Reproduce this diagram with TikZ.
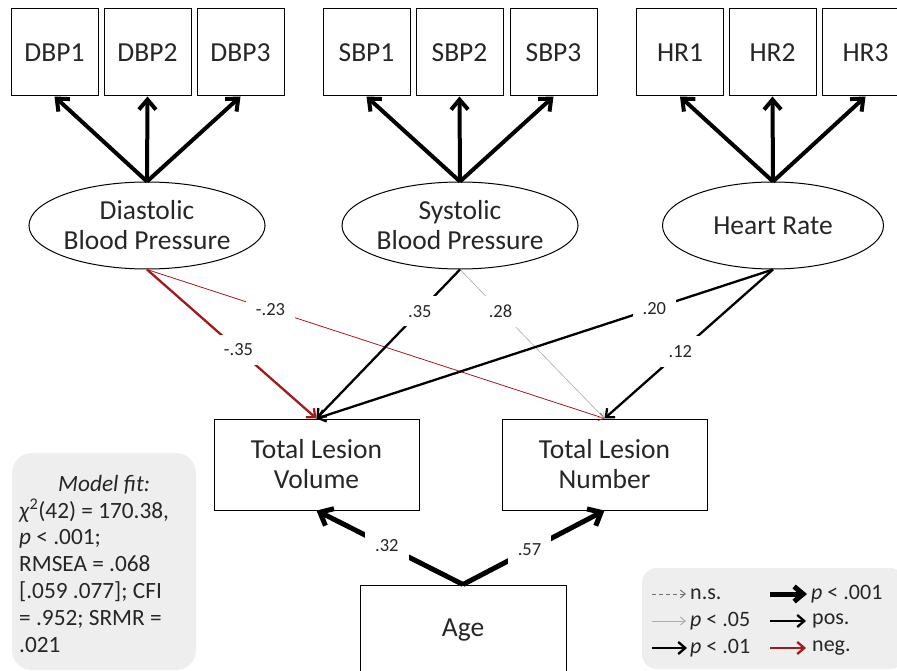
\documentclass[tikz,border=0pt]{standalone}
\usepackage{fontspec}
\setmainfont{Carlito}
\usetikzlibrary{shapes.geometric,arrows.meta}
\definecolor{txt}{HTML}{262626}
\definecolor{negred}{HTML}{A31A1A}
\definecolor{boxgray}{HTML}{EEEEEE}
\definecolor{nsgray}{HTML}{707070}
\definecolor{lightgray}{HTML}{ABABAB}
\begin{document}
\begin{tikzpicture}[x=1pt,y=-1pt,
  obs/.style={draw, line width=1pt, minimum width=87pt, minimum height=87pt, inner sep=0pt,
    font=\fontsize{27.5}{30}\selectfont, text=txt},
  lat/.style={ellipse, draw, line width=1pt, minimum width=221pt, minimum height=87pt, inner sep=0pt,
    align=center, font=\fontsize{27.5}{30}\selectfont, text=txt},
  outc/.style={draw, line width=1pt, minimum width=205pt, minimum height=91pt, inner sep=0pt,
    align=center, font=\fontsize{27.5}{30}\selectfont, text=txt},
  panel/.style={fill=boxgray, draw=none, rounded corners=20pt, inner sep=0pt},
  loadarrow/.style={line width=4pt, -{Straight Barb[length=10pt,width=17pt]}},
  agearrow/.style={line width=5pt, -{Straight Barb[length=11pt,width=19pt]}},
  medarrow/.style={line width=2.3pt, -{Straight Barb[length=7pt,width=12pt]}},
  thinarrow/.style={line width=0.8pt, -{Straight Barb[length=5pt,width=8pt]}},
  lbl/.style={fill=white, inner xsep=10pt, inner ysep=9pt, font=\fontsize{18.5}{18.5}\selectfont, text=txt},
  legtext/.style={anchor=west, inner sep=0pt, font=\fontsize{22}{24}\selectfont, text=txt},
]
\useasboundingbox (0,0) rectangle (897,671);
\clip (0,0) rectangle (897,671);

% panels
\node[panel, minimum width=184pt, minimum height=217pt] (fitbox) at (104,561.5) {};
\node[panel, rounded corners=15pt, minimum width=263pt, minimum height=101pt] (legbox) at (773.5,618.5) {};

% indicator boxes
\node[obs] (d1) at (54.5,52.5) {DBP1};
\node[obs] (d2) at (147.5,52.5) {DBP2};
\node[obs] (d3) at (240.5,52.5) {DBP3};
\node[obs] (s1) at (366.5,52.5) {SBP1};
\node[obs] (s2) at (459.5,52.5) {SBP2};
\node[obs] (s3) at (553.5,52.5) {SBP3};
\node[obs] (h1) at (680,52.5) {HR1};
\node[obs] (h2) at (772.5,52.5) {HR2};
\node[obs] (h3) at (865.5,52.5) {HR3};

% latent variables
\node[lat] (dia) at (147,225.5) {Diastolic\\Blood Pressure};
\node[lat] (sys) at (460,225.5) {Systolic\\Blood Pressure};
\node[lat] (hr) at (773,225.5) {Heart Rate};

% outcomes
\node[outc] (tlv) at (316.5,464.5) {Total Lesion\\Volume};
\node[outc] (tln) at (604.5,464.5) {Total Lesion\\Number};
\node[outc, minimum width=206pt] (age) at (463,630.5) {Age};

% loadings
\foreach \lv/\a/\b/\c in {dia/d1/d2/d3, sys/s1/s2/s3, hr/h1/h2/h3}{
  \draw[loadarrow] (\lv.north) -- (\a.south);
  \draw[loadarrow] (\lv.north) -- (\b.south);
  \draw[loadarrow] (\lv.north) -- (\c.south);
}

% structural paths
\draw[thinarrow, negred] (dia.south) -- node[lbl, pos=.27] {-.23} (tln.north);
\draw[thinarrow, lightgray, line width=0.6pt] (sys.south) -- node[lbl, pos=.28] {.28} (tln.north);
\draw[medarrow, negred] (dia.south) -- node[lbl, pos=.54] {-.35} (tlv.north);
\draw[medarrow] (sys.south) -- node[lbl, pos=.28] {.35} (tlv.north);
\draw[medarrow] (hr.south) -- node[lbl, pos=.26] {.20} (tlv.north);
\draw[medarrow] (hr.south) -- node[lbl, pos=.55] {.12} (tln.north);

% age paths
\draw[agearrow] (age.north) -- node[lbl, pos=.52] {.32} (tlv.south);
\draw[agearrow] (age.north) -- node[lbl, pos=.47] {.57} (tln.south);

% model fit text
\node[anchor=north west, align=left, inner sep=0pt, font=\fontsize{23.3}{26.8}\selectfont, text=txt] (fittext) at (19,475)
  {\makebox[170pt][c]{\textit{Model fit:}}\\
   \textit{χ}\textsuperscript{2}(42) = 170.38,\\
   \textit{p} < .001;\\
   RMSEA = .068\\
   {[}.059 .077]; CFI\\
   = .952; SRMR =\\
   .021};

% legend
\coordinate (ns0) at (652,594);  \coordinate (ns1) at (686,594);
\coordinate (p050) at (652,621); \coordinate (p051) at (686,621);
\coordinate (p010) at (652,648); \coordinate (p011) at (687,648);
\coordinate (p0010) at (770,594); \coordinate (p0011) at (807,594);
\coordinate (pos0) at (770,621); \coordinate (pos1) at (806,621);
\coordinate (neg0) at (770,648); \coordinate (neg1) at (806,648);
\draw[nsgray, line width=0.9pt, dash pattern=on 4pt off 3pt, -{Straight Barb[length=5pt,width=8pt]}] (ns0) -- (ns1);
\draw[lightgray, line width=0.9pt, -{Straight Barb[length=5pt,width=8pt]}] (p050) -- (p051);
\draw[medarrow] (p010) -- (p011);
\draw[agearrow, -{Straight Barb[length=9pt,width=15pt]}] (p0010) -- (p0011);
\draw[medarrow] (pos0) -- (pos1);
\draw[medarrow, negred] (neg0) -- (neg1);
\node[legtext] (tns) at (690,594) {n.s.};
\node[legtext] (tp05) at (690,621) {\textit{p} < .05};
\node[legtext] (tp01) at (690,648) {\textit{p} < .01};
\node[legtext] (tp001) at (811,594) {\textit{p} < .001};
\node[legtext] (tpos) at (812,621) {pos.};
\node[legtext] (tneg) at (812,648) {neg.};
\end{tikzpicture}
\end{document}
